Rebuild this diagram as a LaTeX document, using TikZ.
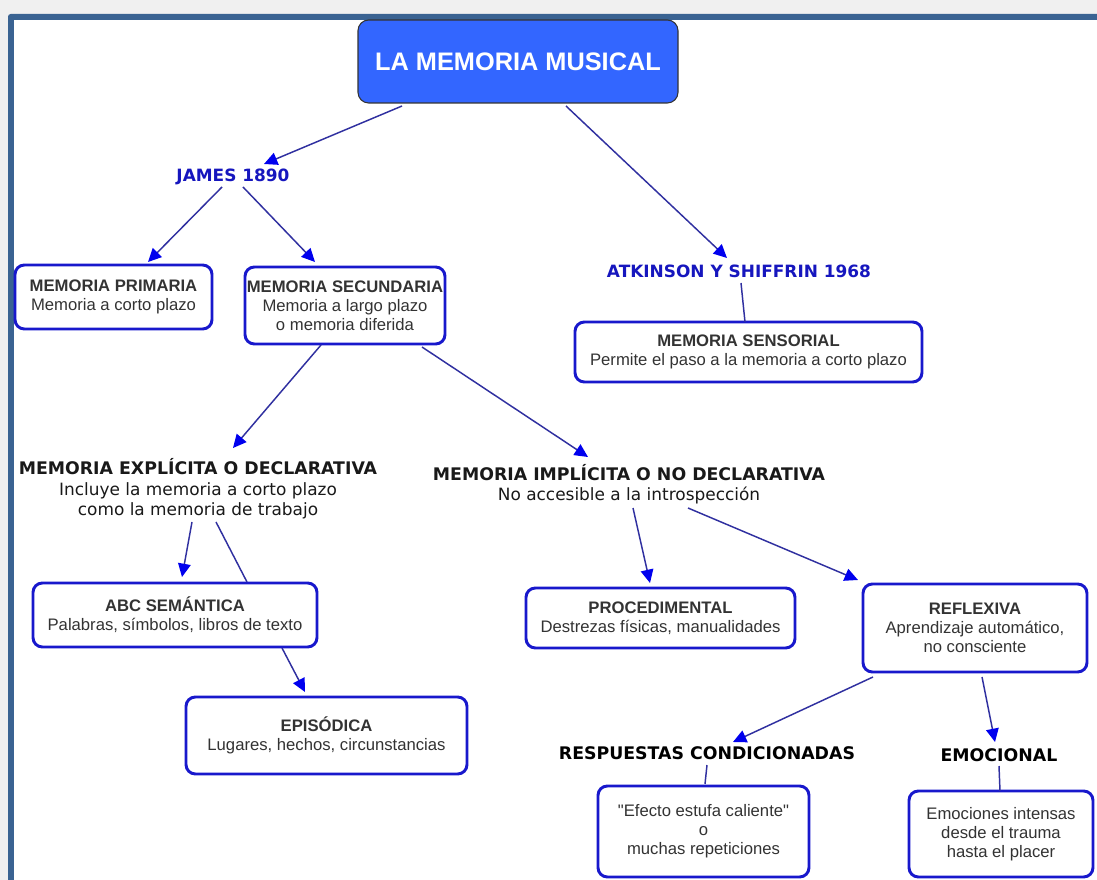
\documentclass[tikz,border=0pt]{standalone}
\usepackage{fontspec}
\setmainfont{Liberation Sans}
\newfontfamily\verdfont{DejaVu Sans}
\usetikzlibrary{%
  arrows.meta,% Triangle tips
  positioning%
}
\definecolor{bggray}{RGB}{240,240,240}
\definecolor{frameblue}{RGB}{58,99,146}
\definecolor{titleblue}{RGB}{51,102,255}
\definecolor{boxblue}{RGB}{24,24,204}
\definecolor{linknavy}{RGB}{48,48,160}
\definecolor{tipblue}{RGB}{0,0,238}
\definecolor{headblue}{RGB}{22,22,190}
\definecolor{textgray}{RGB}{51,51,51}
\newcommand{\branchfont}{\verdfont\bfseries\fontsize{13}{15}\selectfont}

\begin{document}
\begin{tikzpicture}[
    x=0.75pt,y=-0.75pt,
    >={Triangle[length=10pt,width=9.5pt,color=tipblue]},
    boxsize/.style n args={2}{minimum width=#1*0.75pt,minimum height=#2*0.75pt},
    title/.style={rectangle,draw=black!80,line width=0.8pt,fill=titleblue,
        rounded corners=8pt,text=white,inner sep=0pt,
        font=\bfseries\fontsize{19}{22}\selectfont},
    concept/.style={rectangle,draw=boxblue,line width=2.2pt,fill=white,
        rounded corners=7pt,align=center,inner sep=0pt,text=textgray,
        font=\fontsize{12.5}{14.25}\selectfont},
    heading/.style={align=center,inner sep=0pt,text=black!90,
        font=\verdfont\fontsize{12.7}{15}\selectfont},
    branch/.style={inner sep=0pt,text=black,font=\branchfont},
    author/.style={inner sep=0pt,text=headblue,
        font=\verdfont\bfseries\fontsize{12.7}{15}\selectfont},
    link/.style={->,draw=linknavy,line width=1.1pt},
    tie/.style={draw=linknavy,line width=1.1pt}
  ]

    % frame
    \useasboundingbox (0,0) rectangle (1097,880);
    \fill[bggray] (0,0) rectangle (1097,880);
    \fill[frameblue,rounded corners=2pt] (8,14) rectangle (1110,890);
    \fill[white] (14,20) rectangle (1097,880);

    % concepts
    \node[title,boxsize={320}{83}] (title) at (518,61.5) {LA MEMORIA MUSICAL};

    \node[author] (james) at (233,177) {JAMES 1890};
    \node[author] (atkinson) at (739,271) {ATKINSON Y SHIFFRIN 1968};

    \node[concept,boxsize={197}{64}] (primaria) at (113.5,297)
        {\textbf{MEMORIA PRIMARIA}\\Memoria a corto plazo};
    \node[concept,boxsize={200}{77}] (secundaria) at (345,305.5)
        {\textbf{MEMORIA SECUNDARIA}\\Memoria a largo plazo\\o memoria diferida};
    \node[concept,boxsize={347}{60}] (sensorial) at (748.5,352)
        {\textbf{MEMORIA SENSORIAL}\\Permite el paso a la memoria a corto plazo};

    \node[heading] (explicita) at (198,488.5)
        {{\branchfont MEMORIA EXPLÍCITA O DECLARATIVA}\\[0.75pt]
         Incluye la memoria a corto plazo\\como la memoria de trabajo};
    \node[heading] (implicita) at (629,484)
        {{\branchfont MEMORIA IMPLÍCITA O NO DECLARATIVA}\\No accesible a la introspección};

    \node[concept,boxsize={284}{64}] (abc) at (175,615)
        {\textbf{ABC SEMÁNTICA}\\Palabras, símbolos, libros de texto};
    \node[concept,boxsize={281}{77}] (episodica) at (326.5,735.5)
        {\textbf{EPISÓDICA}\\Lugares, hechos, circunstancias};
    \node[concept,boxsize={269}{60}] (procedimental) at (660.5,618)
        {\textbf{PROCEDIMENTAL}\\Destrezas físicas, manualidades};
    \node[concept,boxsize={224}{88}] (reflexiva) at (975,628)
        {\textbf{REFLEXIVA}\\Aprendizaje automático,\\no consciente};

    \node[branch] (respuestas) at (707,753) {RESPUESTAS CONDICIONADAS};
    \node[branch] (emocional) at (999,755) {EMOCIONAL};

    \node[concept,boxsize={211}{91}] (efecto) at (703.5,831.5)
        {\textquotedbl Efecto estufa caliente\textquotedbl\\o\\muchas repeticiones};
    \node[concept,boxsize={184}{86}] (emociones) at (1001,834)
        {Emociones intensas\\desde el trauma\\hasta el placer};

    % connectors
    \draw[link] ([shift={(-116,44.5)}]title.center) -- ([shift={(31,-13)}]james.center);
    \draw[link] ([shift={(48,44.5)}]title.center) -- ([shift={(-12,-13)}]atkinson.center);
    \draw[link] ([shift={(-11,10)}]james.center) -- ([shift={(34.5,-35)}]primaria.center);
    \draw[link] ([shift={(10,10)}]james.center) -- ([shift={(-30,-43.5)}]secundaria.center);
    \draw[tie]  ([shift={(2,12)}]atkinson.center) -- ([shift={(-3.5,-30)}]sensorial.center);
    \draw[link] ([shift={(-24,39.5)}]secundaria.center) -- ([shift={(35,-40.5)}]explicita.center);
    \draw[link] ([shift={(77,41.5)}]secundaria.center) -- ([shift={(-41,-27)}]implicita.center);
    \draw[link] ([shift={(-6,33.5)}]explicita.center) -- ([shift={(7,-38)}]abc.center);
    \draw[tie]  ([shift={(18,33.5)}]explicita.center) -- ([shift={(72,-33)}]abc.center);
    \draw[link] ([shift={(107,33)}]abc.center) -- ([shift={(-21.5,-43.5)}]episodica.center);
    \draw[link] ([shift={(4,24)}]implicita.center) -- ([shift={(-10.5,-35)}]procedimental.center);
    \draw[link] ([shift={(59,24)}]implicita.center) -- ([shift={(-117,-48)}]reflexiva.center);
    \draw[link] ([shift={(-102,49)}]reflexiva.center) -- ([shift={(26,-11)}]respuestas.center);
    \draw[link] ([shift={(7,49)}]reflexiva.center) -- ([shift={(-4,-13)}]emocional.center);
    \draw[tie]  ([shift={(0,12)}]respuestas.center) -- ([shift={(1.5,-47.5)}]efecto.center);
    \draw[tie]  ([shift={(0,11)}]emocional.center) -- ([shift={(-1,-43)}]emociones.center);
\end{tikzpicture}
\end{document}
